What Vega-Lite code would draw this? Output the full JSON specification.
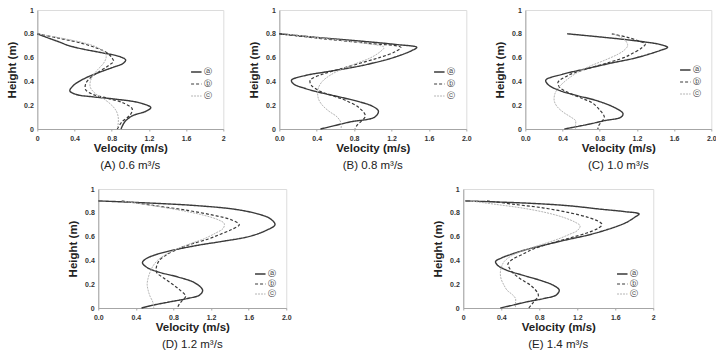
{
"$schema":"https://vega.github.io/schema/vega-lite/v6.json",
"padding":5,
"center":true,
"spacing":12,
"resolve":{"scale":{"color":"independent","strokeDash":"independent","strokeWidth":"independent","x":"independent","y":"independent"},"legend":{"color":"independent","strokeDash":"independent"}},
"data":{"values":[
{"p":"A","s":"ⓐ","h":0.8,"v":0},{"p":"A","s":"ⓐ","h":0.77,"v":0.1},{"p":"A","s":"ⓐ","h":0.73,"v":0.24},{"p":"A","s":"ⓐ","h":0.7,"v":0.34},{"p":"A","s":"ⓐ","h":0.67,"v":0.5},{"p":"A","s":"ⓐ","h":0.64,"v":0.7},{"p":"A","s":"ⓐ","h":0.61,"v":0.88},{"p":"A","s":"ⓐ","h":0.58,"v":0.95},{"p":"A","s":"ⓐ","h":0.55,"v":0.92},{"p":"A","s":"ⓐ","h":0.52,"v":0.82},{"p":"A","s":"ⓐ","h":0.48,"v":0.68},{"p":"A","s":"ⓐ","h":0.44,"v":0.55},{"p":"A","s":"ⓐ","h":0.4,"v":0.45},{"p":"A","s":"ⓐ","h":0.36,"v":0.38},{"p":"A","s":"ⓐ","h":0.32,"v":0.35},{"p":"A","s":"ⓐ","h":0.29,"v":0.42},{"p":"A","s":"ⓐ","h":0.27,"v":0.6},{"p":"A","s":"ⓐ","h":0.25,"v":0.85},{"p":"A","s":"ⓐ","h":0.22,"v":1.1},{"p":"A","s":"ⓐ","h":0.18,"v":1.22},{"p":"A","s":"ⓐ","h":0.15,"v":1.17},{"p":"A","s":"ⓐ","h":0.11,"v":1.02},{"p":"A","s":"ⓐ","h":0.06,"v":0.94},{"p":"A","s":"ⓐ","h":0,"v":0.9},
{"p":"A","s":"ⓑ","h":0.8,"v":0},{"p":"A","s":"ⓑ","h":0.76,"v":0.25},{"p":"A","s":"ⓑ","h":0.72,"v":0.48},{"p":"A","s":"ⓑ","h":0.68,"v":0.64},{"p":"A","s":"ⓑ","h":0.64,"v":0.75},{"p":"A","s":"ⓑ","h":0.6,"v":0.8},{"p":"A","s":"ⓑ","h":0.57,"v":0.82},{"p":"A","s":"ⓑ","h":0.53,"v":0.76},{"p":"A","s":"ⓑ","h":0.48,"v":0.66},{"p":"A","s":"ⓑ","h":0.43,"v":0.57},{"p":"A","s":"ⓑ","h":0.38,"v":0.52},{"p":"A","s":"ⓑ","h":0.33,"v":0.52},{"p":"A","s":"ⓑ","h":0.29,"v":0.6},{"p":"A","s":"ⓑ","h":0.26,"v":0.75},{"p":"A","s":"ⓑ","h":0.22,"v":0.92},{"p":"A","s":"ⓑ","h":0.17,"v":1.02},{"p":"A","s":"ⓑ","h":0.12,"v":1.0},{"p":"A","s":"ⓑ","h":0.06,"v":0.91},{"p":"A","s":"ⓑ","h":0,"v":0.86},
{"p":"A","s":"ⓒ","h":0.8,"v":0},{"p":"A","s":"ⓒ","h":0.76,"v":0.28},{"p":"A","s":"ⓒ","h":0.72,"v":0.52},{"p":"A","s":"ⓒ","h":0.68,"v":0.66},{"p":"A","s":"ⓒ","h":0.64,"v":0.73},{"p":"A","s":"ⓒ","h":0.6,"v":0.74},{"p":"A","s":"ⓒ","h":0.55,"v":0.71},{"p":"A","s":"ⓒ","h":0.5,"v":0.65},{"p":"A","s":"ⓒ","h":0.45,"v":0.6},{"p":"A","s":"ⓒ","h":0.4,"v":0.57},{"p":"A","s":"ⓒ","h":0.35,"v":0.57},{"p":"A","s":"ⓒ","h":0.3,"v":0.62},{"p":"A","s":"ⓒ","h":0.25,"v":0.72},{"p":"A","s":"ⓒ","h":0.2,"v":0.8},{"p":"A","s":"ⓒ","h":0.15,"v":0.85},{"p":"A","s":"ⓒ","h":0.1,"v":0.87},{"p":"A","s":"ⓒ","h":0.05,"v":0.87},{"p":"A","s":"ⓒ","h":0,"v":0.86},
{"p":"B","s":"ⓐ","h":0.8,"v":0},{"p":"B","s":"ⓐ","h":0.77,"v":0.4},{"p":"B","s":"ⓐ","h":0.74,"v":0.85},{"p":"B","s":"ⓐ","h":0.71,"v":1.25},{"p":"B","s":"ⓐ","h":0.686,"v":1.47},{"p":"B","s":"ⓐ","h":0.66,"v":1.42},{"p":"B","s":"ⓐ","h":0.6,"v":1.22},{"p":"B","s":"ⓐ","h":0.55,"v":0.98},{"p":"B","s":"ⓐ","h":0.52,"v":0.8},{"p":"B","s":"ⓐ","h":0.48,"v":0.5},{"p":"B","s":"ⓐ","h":0.45,"v":0.28},{"p":"B","s":"ⓐ","h":0.41,"v":0.13},{"p":"B","s":"ⓐ","h":0.38,"v":0.15},{"p":"B","s":"ⓐ","h":0.34,"v":0.28},{"p":"B","s":"ⓐ","h":0.3,"v":0.47},{"p":"B","s":"ⓐ","h":0.27,"v":0.64},{"p":"B","s":"ⓐ","h":0.23,"v":0.85},{"p":"B","s":"ⓐ","h":0.19,"v":1.0},{"p":"B","s":"ⓐ","h":0.15,"v":1.06},{"p":"B","s":"ⓐ","h":0.1,"v":1.02},{"p":"B","s":"ⓐ","h":0.06,"v":0.76},{"p":"B","s":"ⓐ","h":0.03,"v":0.6},{"p":"B","s":"ⓐ","h":0,"v":0.44},
{"p":"B","s":"ⓑ","h":0.8,"v":0},{"p":"B","s":"ⓑ","h":0.76,"v":0.45},{"p":"B","s":"ⓑ","h":0.72,"v":0.95},{"p":"B","s":"ⓑ","h":0.686,"v":1.3},{"p":"B","s":"ⓑ","h":0.65,"v":1.24},{"p":"B","s":"ⓑ","h":0.6,"v":1.07},{"p":"B","s":"ⓑ","h":0.55,"v":0.85},{"p":"B","s":"ⓑ","h":0.5,"v":0.63},{"p":"B","s":"ⓑ","h":0.46,"v":0.46},{"p":"B","s":"ⓑ","h":0.41,"v":0.33},{"p":"B","s":"ⓑ","h":0.37,"v":0.34},{"p":"B","s":"ⓑ","h":0.32,"v":0.43},{"p":"B","s":"ⓑ","h":0.28,"v":0.57},{"p":"B","s":"ⓑ","h":0.24,"v":0.71},{"p":"B","s":"ⓑ","h":0.18,"v":0.85},{"p":"B","s":"ⓑ","h":0.11,"v":0.92},{"p":"B","s":"ⓑ","h":0.06,"v":0.87},{"p":"B","s":"ⓑ","h":0.03,"v":0.83},{"p":"B","s":"ⓑ","h":0,"v":0.81},
{"p":"B","s":"ⓒ","h":0.8,"v":0.05},{"p":"B","s":"ⓒ","h":0.76,"v":0.5},{"p":"B","s":"ⓒ","h":0.72,"v":0.92},{"p":"B","s":"ⓒ","h":0.686,"v":1.12},{"p":"B","s":"ⓒ","h":0.65,"v":1.08},{"p":"B","s":"ⓒ","h":0.6,"v":0.98},{"p":"B","s":"ⓒ","h":0.55,"v":0.82},{"p":"B","s":"ⓒ","h":0.5,"v":0.66},{"p":"B","s":"ⓒ","h":0.45,"v":0.54},{"p":"B","s":"ⓒ","h":0.4,"v":0.46},{"p":"B","s":"ⓒ","h":0.35,"v":0.42},{"p":"B","s":"ⓒ","h":0.3,"v":0.41},{"p":"B","s":"ⓒ","h":0.25,"v":0.42},{"p":"B","s":"ⓒ","h":0.2,"v":0.46},{"p":"B","s":"ⓒ","h":0.15,"v":0.53},{"p":"B","s":"ⓒ","h":0.1,"v":0.62},{"p":"B","s":"ⓒ","h":0.05,"v":0.66},{"p":"B","s":"ⓒ","h":0,"v":0.66},
{"p":"C","s":"ⓐ","h":0.8,"v":0.45},{"p":"C","s":"ⓐ","h":0.77,"v":0.85},{"p":"C","s":"ⓐ","h":0.74,"v":1.2},{"p":"C","s":"ⓐ","h":0.71,"v":1.45},{"p":"C","s":"ⓐ","h":0.686,"v":1.53},{"p":"C","s":"ⓐ","h":0.66,"v":1.45},{"p":"C","s":"ⓐ","h":0.6,"v":1.2},{"p":"C","s":"ⓐ","h":0.55,"v":0.9},{"p":"C","s":"ⓐ","h":0.5,"v":0.62},{"p":"C","s":"ⓐ","h":0.46,"v":0.4},{"p":"C","s":"ⓐ","h":0.41,"v":0.22},{"p":"C","s":"ⓐ","h":0.37,"v":0.25},{"p":"C","s":"ⓐ","h":0.32,"v":0.38},{"p":"C","s":"ⓐ","h":0.28,"v":0.56},{"p":"C","s":"ⓐ","h":0.24,"v":0.76},{"p":"C","s":"ⓐ","h":0.18,"v":0.96},{"p":"C","s":"ⓐ","h":0.13,"v":1.05},{"p":"C","s":"ⓐ","h":0.1,"v":1.03},{"p":"C","s":"ⓐ","h":0.07,"v":0.85},{"p":"C","s":"ⓐ","h":0.04,"v":0.68},{"p":"C","s":"ⓐ","h":0,"v":0.42},
{"p":"C","s":"ⓑ","h":0.8,"v":0.93},{"p":"C","s":"ⓑ","h":0.77,"v":1.1},{"p":"C","s":"ⓑ","h":0.74,"v":1.22},{"p":"C","s":"ⓑ","h":0.714,"v":1.29},{"p":"C","s":"ⓑ","h":0.68,"v":1.25},{"p":"C","s":"ⓑ","h":0.63,"v":1.14},{"p":"C","s":"ⓑ","h":0.6,"v":1.06},{"p":"C","s":"ⓑ","h":0.55,"v":0.86},{"p":"C","s":"ⓑ","h":0.5,"v":0.64},{"p":"C","s":"ⓑ","h":0.45,"v":0.46},{"p":"C","s":"ⓑ","h":0.39,"v":0.35},{"p":"C","s":"ⓑ","h":0.35,"v":0.37},{"p":"C","s":"ⓑ","h":0.31,"v":0.45},{"p":"C","s":"ⓑ","h":0.26,"v":0.6},{"p":"C","s":"ⓑ","h":0.22,"v":0.72},{"p":"C","s":"ⓑ","h":0.16,"v":0.8},{"p":"C","s":"ⓑ","h":0.1,"v":0.85},{"p":"C","s":"ⓑ","h":0.06,"v":0.82},{"p":"C","s":"ⓑ","h":0.03,"v":0.79},{"p":"C","s":"ⓑ","h":0,"v":0.78},
{"p":"C","s":"ⓒ","h":0.8,"v":0.94},{"p":"C","s":"ⓒ","h":0.77,"v":1.03},{"p":"C","s":"ⓒ","h":0.74,"v":1.08},{"p":"C","s":"ⓒ","h":0.7,"v":1.1},{"p":"C","s":"ⓒ","h":0.66,"v":1.06},{"p":"C","s":"ⓒ","h":0.63,"v":1.0},{"p":"C","s":"ⓒ","h":0.58,"v":0.86},{"p":"C","s":"ⓒ","h":0.53,"v":0.7},{"p":"C","s":"ⓒ","h":0.47,"v":0.55},{"p":"C","s":"ⓒ","h":0.41,"v":0.44},{"p":"C","s":"ⓒ","h":0.35,"v":0.36},{"p":"C","s":"ⓒ","h":0.3,"v":0.32},{"p":"C","s":"ⓒ","h":0.24,"v":0.31},{"p":"C","s":"ⓒ","h":0.19,"v":0.34},{"p":"C","s":"ⓒ","h":0.14,"v":0.41},{"p":"C","s":"ⓒ","h":0.1,"v":0.49},{"p":"C","s":"ⓒ","h":0.07,"v":0.54},{"p":"C","s":"ⓒ","h":0.03,"v":0.54},{"p":"C","s":"ⓒ","h":0,"v":0.54},
{"p":"D","s":"ⓐ","h":0.9,"v":0},{"p":"D","s":"ⓐ","h":0.88,"v":0.6},{"p":"D","s":"ⓐ","h":0.86,"v":1.05},{"p":"D","s":"ⓐ","h":0.83,"v":1.45},{"p":"D","s":"ⓐ","h":0.79,"v":1.7},{"p":"D","s":"ⓐ","h":0.75,"v":1.83},{"p":"D","s":"ⓐ","h":0.7,"v":1.88},{"p":"D","s":"ⓐ","h":0.65,"v":1.78},{"p":"D","s":"ⓐ","h":0.6,"v":1.6},{"p":"D","s":"ⓐ","h":0.56,"v":1.32},{"p":"D","s":"ⓐ","h":0.53,"v":1.08},{"p":"D","s":"ⓐ","h":0.49,"v":0.82},{"p":"D","s":"ⓐ","h":0.45,"v":0.62},{"p":"D","s":"ⓐ","h":0.41,"v":0.5},{"p":"D","s":"ⓐ","h":0.38,"v":0.47},{"p":"D","s":"ⓐ","h":0.34,"v":0.52},{"p":"D","s":"ⓐ","h":0.3,"v":0.65},{"p":"D","s":"ⓐ","h":0.26,"v":0.85},{"p":"D","s":"ⓐ","h":0.21,"v":1.03},{"p":"D","s":"ⓐ","h":0.15,"v":1.11},{"p":"D","s":"ⓐ","h":0.11,"v":1.08},{"p":"D","s":"ⓐ","h":0.08,"v":0.95},{"p":"D","s":"ⓐ","h":0.05,"v":0.75},{"p":"D","s":"ⓐ","h":0.02,"v":0.56},{"p":"D","s":"ⓐ","h":0,"v":0.46},
{"p":"D","s":"ⓑ","h":0.9,"v":0.25},{"p":"D","s":"ⓑ","h":0.86,"v":0.6},{"p":"D","s":"ⓑ","h":0.82,"v":0.95},{"p":"D","s":"ⓑ","h":0.78,"v":1.22},{"p":"D","s":"ⓑ","h":0.74,"v":1.42},{"p":"D","s":"ⓑ","h":0.7,"v":1.5},{"p":"D","s":"ⓑ","h":0.66,"v":1.42},{"p":"D","s":"ⓑ","h":0.62,"v":1.3},{"p":"D","s":"ⓑ","h":0.58,"v":1.17},{"p":"D","s":"ⓑ","h":0.54,"v":1.0},{"p":"D","s":"ⓑ","h":0.5,"v":0.86},{"p":"D","s":"ⓑ","h":0.45,"v":0.73},{"p":"D","s":"ⓑ","h":0.4,"v":0.65},{"p":"D","s":"ⓑ","h":0.35,"v":0.62},{"p":"D","s":"ⓑ","h":0.3,"v":0.62},{"p":"D","s":"ⓑ","h":0.25,"v":0.7},{"p":"D","s":"ⓑ","h":0.2,"v":0.79},{"p":"D","s":"ⓑ","h":0.15,"v":0.87},{"p":"D","s":"ⓑ","h":0.1,"v":0.93},{"p":"D","s":"ⓑ","h":0.06,"v":0.89},{"p":"D","s":"ⓑ","h":0.03,"v":0.86},{"p":"D","s":"ⓑ","h":0,"v":0.84},
{"p":"D","s":"ⓒ","h":0.9,"v":0.25},{"p":"D","s":"ⓒ","h":0.86,"v":0.58},{"p":"D","s":"ⓒ","h":0.82,"v":0.88},{"p":"D","s":"ⓒ","h":0.78,"v":1.12},{"p":"D","s":"ⓒ","h":0.74,"v":1.28},{"p":"D","s":"ⓒ","h":0.71,"v":1.34},{"p":"D","s":"ⓒ","h":0.67,"v":1.33},{"p":"D","s":"ⓒ","h":0.63,"v":1.25},{"p":"D","s":"ⓒ","h":0.58,"v":1.12},{"p":"D","s":"ⓒ","h":0.54,"v":0.98},{"p":"D","s":"ⓒ","h":0.5,"v":0.85},{"p":"D","s":"ⓒ","h":0.45,"v":0.72},{"p":"D","s":"ⓒ","h":0.4,"v":0.63},{"p":"D","s":"ⓒ","h":0.35,"v":0.58},{"p":"D","s":"ⓒ","h":0.3,"v":0.55},{"p":"D","s":"ⓒ","h":0.25,"v":0.53},{"p":"D","s":"ⓒ","h":0.2,"v":0.52},{"p":"D","s":"ⓒ","h":0.15,"v":0.53},{"p":"D","s":"ⓒ","h":0.1,"v":0.55},{"p":"D","s":"ⓒ","h":0.05,"v":0.58},{"p":"D","s":"ⓒ","h":0,"v":0.59},
{"p":"E","s":"ⓐ","h":0.9,"v":0.02},{"p":"E","s":"ⓐ","h":0.88,"v":0.7},{"p":"E","s":"ⓐ","h":0.86,"v":1.1},{"p":"E","s":"ⓐ","h":0.83,"v":1.45},{"p":"E","s":"ⓐ","h":0.81,"v":1.7},{"p":"E","s":"ⓐ","h":0.79,"v":1.85},{"p":"E","s":"ⓐ","h":0.76,"v":1.8},{"p":"E","s":"ⓐ","h":0.72,"v":1.72},{"p":"E","s":"ⓐ","h":0.69,"v":1.63},{"p":"E","s":"ⓐ","h":0.65,"v":1.48},{"p":"E","s":"ⓐ","h":0.61,"v":1.3},{"p":"E","s":"ⓐ","h":0.57,"v":1.07},{"p":"E","s":"ⓐ","h":0.53,"v":0.86},{"p":"E","s":"ⓐ","h":0.49,"v":0.66},{"p":"E","s":"ⓐ","h":0.45,"v":0.5},{"p":"E","s":"ⓐ","h":0.42,"v":0.4},{"p":"E","s":"ⓐ","h":0.39,"v":0.34},{"p":"E","s":"ⓐ","h":0.36,"v":0.36},{"p":"E","s":"ⓐ","h":0.32,"v":0.45},{"p":"E","s":"ⓐ","h":0.27,"v":0.65},{"p":"E","s":"ⓐ","h":0.23,"v":0.82},{"p":"E","s":"ⓐ","h":0.19,"v":0.95},{"p":"E","s":"ⓐ","h":0.15,"v":1.01},{"p":"E","s":"ⓐ","h":0.11,"v":0.98},{"p":"E","s":"ⓐ","h":0.08,"v":0.85},{"p":"E","s":"ⓐ","h":0.05,"v":0.66},{"p":"E","s":"ⓐ","h":0.02,"v":0.5},{"p":"E","s":"ⓐ","h":0,"v":0.39},
{"p":"E","s":"ⓑ","h":0.9,"v":0.25},{"p":"E","s":"ⓑ","h":0.87,"v":0.55},{"p":"E","s":"ⓑ","h":0.84,"v":0.85},{"p":"E","s":"ⓑ","h":0.8,"v":1.12},{"p":"E","s":"ⓑ","h":0.76,"v":1.32},{"p":"E","s":"ⓑ","h":0.72,"v":1.44},{"p":"E","s":"ⓑ","h":0.7,"v":1.46},{"p":"E","s":"ⓑ","h":0.67,"v":1.42},{"p":"E","s":"ⓑ","h":0.63,"v":1.3},{"p":"E","s":"ⓑ","h":0.59,"v":1.13},{"p":"E","s":"ⓑ","h":0.55,"v":0.95},{"p":"E","s":"ⓑ","h":0.5,"v":0.75},{"p":"E","s":"ⓑ","h":0.45,"v":0.62},{"p":"E","s":"ⓑ","h":0.41,"v":0.52},{"p":"E","s":"ⓑ","h":0.37,"v":0.47},{"p":"E","s":"ⓑ","h":0.33,"v":0.49},{"p":"E","s":"ⓑ","h":0.29,"v":0.53},{"p":"E","s":"ⓑ","h":0.24,"v":0.61},{"p":"E","s":"ⓑ","h":0.19,"v":0.71},{"p":"E","s":"ⓑ","h":0.13,"v":0.78},{"p":"E","s":"ⓑ","h":0.1,"v":0.79},{"p":"E","s":"ⓑ","h":0.06,"v":0.75},{"p":"E","s":"ⓑ","h":0.03,"v":0.72},{"p":"E","s":"ⓑ","h":0,"v":0.69},
{"p":"E","s":"ⓒ","h":0.9,"v":0.07},{"p":"E","s":"ⓒ","h":0.87,"v":0.35},{"p":"E","s":"ⓒ","h":0.84,"v":0.62},{"p":"E","s":"ⓒ","h":0.8,"v":0.88},{"p":"E","s":"ⓒ","h":0.76,"v":1.06},{"p":"E","s":"ⓒ","h":0.72,"v":1.18},{"p":"E","s":"ⓒ","h":0.69,"v":1.23},{"p":"E","s":"ⓒ","h":0.65,"v":1.2},{"p":"E","s":"ⓒ","h":0.62,"v":1.12},{"p":"E","s":"ⓒ","h":0.58,"v":1.0},{"p":"E","s":"ⓒ","h":0.54,"v":0.85},{"p":"E","s":"ⓒ","h":0.49,"v":0.66},{"p":"E","s":"ⓒ","h":0.44,"v":0.51},{"p":"E","s":"ⓒ","h":0.39,"v":0.43},{"p":"E","s":"ⓒ","h":0.34,"v":0.4},{"p":"E","s":"ⓒ","h":0.29,"v":0.39},{"p":"E","s":"ⓒ","h":0.24,"v":0.4},{"p":"E","s":"ⓒ","h":0.19,"v":0.43},{"p":"E","s":"ⓒ","h":0.15,"v":0.46},{"p":"E","s":"ⓒ","h":0.11,"v":0.52},{"p":"E","s":"ⓒ","h":0.08,"v":0.55},{"p":"E","s":"ⓒ","h":0.04,"v":0.55},{"p":"E","s":"ⓒ","h":0,"v":0.55}
]},
"vconcat":[
{"resolve":{"scale":{"color":"independent","strokeDash":"independent","strokeWidth":"independent"},"legend":{"color":"independent","strokeDash":"independent"}},
"hconcat":[
{"width":186,"height":119,"title":"(A) 0.6 m³/s","transform":[{"filter":"datum.p==='A'"}],
"mark":{"type":"line","interpolate":"catmull-rom"},
"encoding":{
"x":{"field":"v","type":"quantitative","scale":{"domain":[0,2],"nice":false},"axis":{"values":[0,0.4,0.8,1.2,1.6,2],"format":"~g","title":"Velocity (m/s)"}},
"y":{"field":"h","type":"quantitative","scale":{"domain":[0,1],"nice":false},"axis":{"values":[0,0.2,0.4,0.6,0.8,1],"format":"~g","title":"Height (m)"}},
"order":{"field":"h","sort":"descending"},
"color":{"field":"s","type":"nominal","scale":{"domain":["ⓐ","ⓑ","ⓒ"],"range":["#3a3a3a","#3a3a3a","#b4b4b4"]},"legend":{"orient":"none","legendX":153,"legendY":56,"title":null,"rowPadding":2}},
"strokeDash":{"field":"s","type":"nominal","scale":{"domain":["ⓐ","ⓑ","ⓒ"],"range":[[1,0],[3,2],[2,1]]},"legend":{"orient":"none","legendX":153,"legendY":56,"title":null,"rowPadding":2}},
"strokeWidth":{"field":"s","type":"ordinal","scale":{"domain":["ⓐ","ⓑ","ⓒ"],"range":[1.4,1,1]},"legend":null}}},
{"width":187,"height":119,"title":"(B) 0.8 m³/s","transform":[{"filter":"datum.p==='B'"}],
"mark":{"type":"line","interpolate":"catmull-rom"},
"encoding":{
"x":{"field":"v","type":"quantitative","scale":{"domain":[0,2],"nice":false},"axis":{"values":[0,0.4,0.8,1.2,1.6,2],"format":".1f","title":"Velocity (m/s)"}},
"y":{"field":"h","type":"quantitative","scale":{"domain":[0,1],"nice":false},"axis":{"values":[0,0.2,0.4,0.6,0.8,1],"format":"~g","title":"Height (m)"}},
"order":{"field":"h","sort":"descending"},
"color":{"field":"s","type":"nominal","scale":{"domain":["ⓐ","ⓑ","ⓒ"],"range":["#3a3a3a","#3a3a3a","#b4b4b4"]},"legend":{"orient":"none","legendX":154,"legendY":56,"title":null,"rowPadding":2}},
"strokeDash":{"field":"s","type":"nominal","scale":{"domain":["ⓐ","ⓑ","ⓒ"],"range":[[1,0],[3,2],[2,1]]},"legend":{"orient":"none","legendX":154,"legendY":56,"title":null,"rowPadding":2}},
"strokeWidth":{"field":"s","type":"ordinal","scale":{"domain":["ⓐ","ⓑ","ⓒ"],"range":[1.4,1,1]},"legend":null}}},
{"width":186,"height":119,"title":"(C) 1.0 m³/s","transform":[{"filter":"datum.p==='C'"}],
"mark":{"type":"line","interpolate":"catmull-rom"},
"encoding":{
"x":{"field":"v","type":"quantitative","scale":{"domain":[0,2],"nice":false},"axis":{"values":[0,0.4,0.8,1.2,1.6,2],"format":".1f","title":"Velocity (m/s)"}},
"y":{"field":"h","type":"quantitative","scale":{"domain":[0,1],"nice":false},"axis":{"values":[0,0.2,0.4,0.6,0.8,1],"format":"~g","title":"Height (m)"}},
"order":{"field":"h","sort":"descending"},
"color":{"field":"s","type":"nominal","scale":{"domain":["ⓐ","ⓑ","ⓒ"],"range":["#3a3a3a","#3a3a3a","#b4b4b4"]},"legend":{"orient":"none","legendX":154,"legendY":54,"title":null,"rowPadding":2}},
"strokeDash":{"field":"s","type":"nominal","scale":{"domain":["ⓐ","ⓑ","ⓒ"],"range":[[1,0],[3,2],[2,1]]},"legend":{"orient":"none","legendX":154,"legendY":54,"title":null,"rowPadding":2}},
"strokeWidth":{"field":"s","type":"ordinal","scale":{"domain":["ⓐ","ⓑ","ⓒ"],"range":[1.4,1,1]},"legend":null}}}
],"spacing":21},
{"resolve":{"scale":{"color":"independent","strokeDash":"independent","strokeWidth":"independent"},"legend":{"color":"independent","strokeDash":"independent"}},
"hconcat":[
{"width":188,"height":119,"title":"(D) 1.2 m³/s","transform":[{"filter":"datum.p==='D'"}],
"mark":{"type":"line","interpolate":"catmull-rom"},
"encoding":{
"x":{"field":"v","type":"quantitative","scale":{"domain":[0,2],"nice":false},"axis":{"values":[0,0.4,0.8,1.2,1.6,2],"format":".1f","title":"Velocity (m/s)"}},
"y":{"field":"h","type":"quantitative","scale":{"domain":[0,1],"nice":false},"axis":{"values":[0,0.2,0.4,0.6,0.8,1],"format":"~g","title":"Height (m)"}},
"order":{"field":"h","sort":"descending"},
"color":{"field":"s","type":"nominal","scale":{"domain":["ⓐ","ⓑ","ⓒ"],"range":["#3a3a3a","#3a3a3a","#b4b4b4"]},"legend":{"orient":"none","legendX":156,"legendY":79,"title":null,"rowPadding":0}},
"strokeDash":{"field":"s","type":"nominal","scale":{"domain":["ⓐ","ⓑ","ⓒ"],"range":[[1,0],[3,2],[2,1]]},"legend":{"orient":"none","legendX":156,"legendY":79,"title":null,"rowPadding":0}},
"strokeWidth":{"field":"s","type":"ordinal","scale":{"domain":["ⓐ","ⓑ","ⓒ"],"range":[1.4,1,1]},"legend":null}}},
{"width":190,"height":119,"title":"(E) 1.4 m³/s","transform":[{"filter":"datum.p==='E'"}],
"mark":{"type":"line","interpolate":"catmull-rom"},
"encoding":{
"x":{"field":"v","type":"quantitative","scale":{"domain":[0,2],"nice":false},"axis":{"values":[0,0.4,0.8,1.2,1.6,2],"format":"~g","title":"Velocity (m/s)"}},
"y":{"field":"h","type":"quantitative","scale":{"domain":[0,1],"nice":false},"axis":{"values":[0,0.2,0.4,0.6,0.8,1],"format":"~g","title":"Height (m)"}},
"order":{"field":"h","sort":"descending"},
"color":{"field":"s","type":"nominal","scale":{"domain":["ⓐ","ⓑ","ⓒ"],"range":["#3a3a3a","#3a3a3a","#b4b4b4"]},"legend":{"orient":"none","legendX":153,"legendY":79,"title":null,"rowPadding":0}},
"strokeDash":{"field":"s","type":"nominal","scale":{"domain":["ⓐ","ⓑ","ⓒ"],"range":[[1,0],[3,2],[2,1]]},"legend":{"orient":"none","legendX":153,"legendY":79,"title":null,"rowPadding":0}},
"strokeWidth":{"field":"s","type":"ordinal","scale":{"domain":["ⓐ","ⓑ","ⓒ"],"range":[1.4,1,1]},"legend":null}}}
],"spacing":139}
],
"config":{
"font":"Liberation Sans",
"view":{"stroke":"#dcdcdc"},
"axis":{"grid":false,"domainColor":"#a6a6a6","tickColor":"#a6a6a6","labelFont":"Liberation Sans","labelFontSize":7,"labelFontWeight":"bold","labelColor":"#333333","titleFont":"Liberation Sans","titleFontSize":11.5,"titleFontWeight":"bold","titleColor":"#222222"},
"axisX":{"tickSize":2,"labelPadding":3,"titlePadding":1,"labelFlush":false},
"axisY":{"ticks":false,"labelPadding":4,"minExtent":15,"maxExtent":15,"titlePadding":5},
"title":{"orient":"bottom","fontSize":11.5,"fontWeight":"normal","color":"#222222","offset":6,"anchor":"middle","font":"Liberation Sans"},
"legend":{"symbolType":"stroke","symbolSize":110,"symbolStrokeWidth":1.2,"labelFont":"DejaVu Sans","labelFontSize":8,"labelColor":"#333333","labelOffset":2,"padding":0}
}
}
